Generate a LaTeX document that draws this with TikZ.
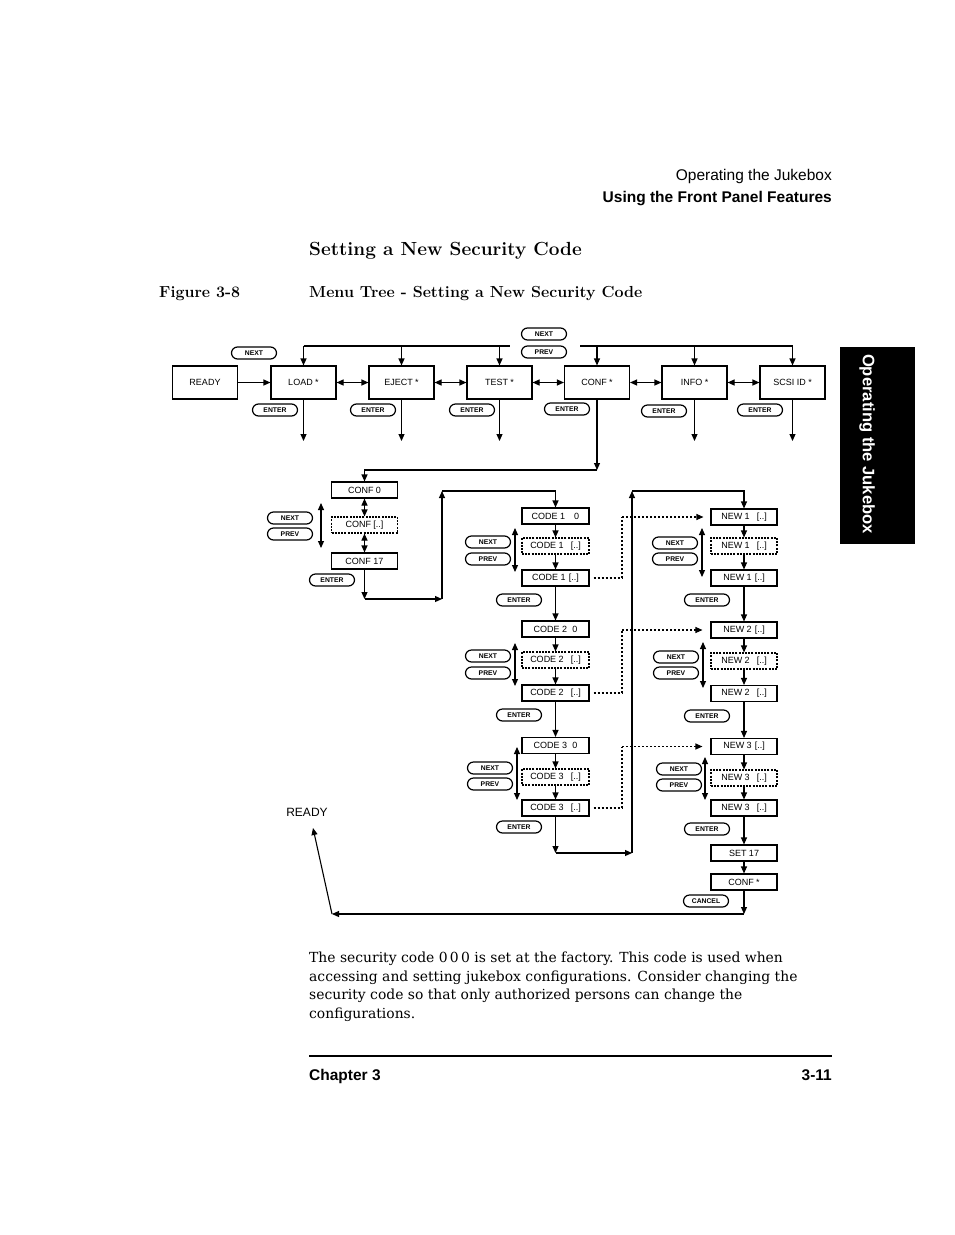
\documentclass[tikz,border=0pt]{standalone}
\usepackage{fontspec}
\setsansfont{Liberation Sans}
\newfontfamily\bodyserif{DejaVu Serif}
\usetikzlibrary{arrows.meta}
\begin{document}
\begin{tikzpicture}[x=1pt,y=-1pt,
  lw/.style={line width=1.1pt},
  mbox/.style={draw,lw,minimum width=65pt,minimum height=33pt,inner sep=0pt,font=\sffamily\fontsize{9}{10}\selectfont},
  sbox/.style={draw,lw,minimum width=66pt,minimum height=16pt,inner sep=0pt,font=\sffamily\fontsize{9}{10}\selectfont},
  dbox/.style={sbox,dash pattern=on 2pt off 1.2pt},
  pill/.style={draw,line width=1.2pt,rounded corners=6pt,minimum width=45pt,minimum height=12pt,inner sep=0pt,font=\sffamily\bfseries\fontsize{6.8}{7}\selectfont},
  arr/.style={lw,-{Triangle[length=7pt,width=6pt]}},
  darr/.style={lw,{Triangle[length=7pt,width=6pt]}-{Triangle[length=7pt,width=6pt]}},
  dotarr/.style={lw,dash pattern=on 2pt off 2pt,-{Triangle[length=7pt,width=6pt]}},
  dotln/.style={lw,dash pattern=on 2pt off 2pt},
  hdr/.style={font=\sffamily\fontsize{15.5}{18}\selectfont,inner sep=0pt},
]
\useasboundingbox (0,0) rectangle (954,1235);
\fill[white] (0,0) rectangle (954,1235);

% ---------- page header ----------
\node[hdr,anchor=base east] (h1) at (832,180) {Operating the Jukebox};
\node[hdr,anchor=base east,font=\sffamily\bfseries\fontsize{15.5}{18}\selectfont] (h2) at (832,202) {Using the Front Panel Features};
\node[anchor=base west,inner sep=0pt,font=\bfseries\fontsize{19}{22}\selectfont] (title) at (309,255) {Setting a New Security Code};
\node[anchor=base west,inner sep=0pt,font=\bfseries\fontsize{16}{18}\selectfont] (fig) at (159,297) {Figure 3-8};
\node[anchor=base west,inner sep=0pt,font=\bfseries\fontsize{16}{18}\selectfont] (cap) at (309,297) {Menu Tree - Setting a New Security Code};

% ---------- side tab ----------
\fill[black] (840,347) rectangle (915,544);
\node[rotate=-90,text=white,inner sep=0pt,font=\sffamily\bfseries\fontsize{16.6}{18}\selectfont] (tab) at (867,444) {Operating the Jukebox};

% ---------- top menu row ----------
\node[mbox] (ready) at (205,382.5) {READY};
\node[mbox] (load)  at (303.5,382.5) {LOAD *};
\node[mbox] (eject) at (401.5,382.5) {EJECT *};
\node[mbox] (test)  at (499.5,382.5) {TEST *};
\node[mbox] (conf)  at (597,382.5) {CONF *};
\node[mbox] (info)  at (694.5,382.5) {INFO *};
\node[mbox] (scsi)  at (792.5,382.5) {SCSI ID *};

\node[pill] (next0) at (254,353) {NEXT};
\node[pill] (next1) at (544,334) {NEXT};
\node[pill] (prev1) at (544,352) {PREV};
\node[pill] (e1) at (275,410) {ENTER};
\node[pill] (e2) at (373,410) {ENTER};
\node[pill] (e3) at (472,410) {ENTER};
\node[pill] (e4) at (567,409) {ENTER};
\node[pill] (e5) at (664,411) {ENTER};
\node[pill] (e6) at (760,410) {ENTER};

\draw[arr] (ready) -- (load);
\draw[darr] (load) -- (eject);
\draw[darr] (eject) -- (test);
\draw[darr] (test) -- (conf);
\draw[darr] (conf) -- (info);
\draw[darr] (info) -- (scsi);

\coordinate (tl) at (510,346);
\coordinate (tr) at (580,346);
\draw[lw] (load.north |- tl) -- (tl);
\draw[lw] (tr) -- (scsi.north |- tr);
\foreach \b in {load,eject,test} \draw[arr] (\b.north |- tl) -- (\b.north);
\foreach \b in {conf,info,scsi} \draw[arr] (\b.north |- tr) -- (\b.north);

\coordinate (load-d) at (303.5,441);
\coordinate (eject-d) at (401.5,441);
\coordinate (test-d) at (499.5,441);
\coordinate (info-d) at (694.5,441);
\coordinate (scsi-d) at (792.5,441);
\foreach \b in {load,eject,test,info,scsi} \draw[arr] (\b.south) -- (\b-d);

% ---------- CONF column ----------
\node[sbox] (c0)  at (364.5,490) {CONF 0};
\node[dbox] (cd)  at (364.5,525) {CONF [..]};
\node[sbox] (c17) at (364.5,561) {CONF 17};
\node[pill] (cn) at (290,518) {NEXT};
\node[pill] (cp) at (290,534) {PREV};
\node[pill] (ce) at (332,580) {ENTER};
\coordinate (ca1) at (321,503);
\coordinate (ca2) at (321,548);
\draw[darr] (ca1) -- (ca2);

\coordinate (k1) at (597,470);
\coordinate (k2) at (364.5,470);
\draw[arr] (conf.south) -- (k1);
\draw[arr] (k1) -- (k2) -- (c0.north);
\draw[darr] (c0) -- (cd);
\draw[darr] (cd) -- (c17);

\coordinate (m1) at (364.5,599);
\coordinate (m2) at (442,599);
\coordinate (m3) at (442,491);
\coordinate (m4) at (555.5,491);
\draw[arr] (c17.south) -- (m1);
\draw[arr] (m1) -- (m2);
\draw[arr] (m2) -- (m3);

% ---------- CODE column ----------
\node[sbox,minimum width=67pt] (a10) at (555.5,516) {CODE 1\hspace{9pt}0};
\node[dbox,minimum width=67pt] (a1d) at (555.5,546) {CODE 1\hspace{7pt}[..]};
\node[sbox,minimum width=67pt] (a1)  at (555.5,578) {CODE 1\hspace{3pt}[..]};
\node[sbox,minimum width=67pt] (a20) at (555.5,629) {CODE 2\hspace{5pt}0};
\node[dbox,minimum width=67pt] (a2d) at (555.5,660) {CODE 2\hspace{7pt}[..]};
\node[sbox,minimum width=67pt] (a2)  at (555.5,693) {CODE 2\hspace{7pt}[..]};
\node[sbox,minimum width=67pt] (a30) at (555.5,745.5) {CODE 3\hspace{5pt}0};
\node[dbox,minimum width=67pt] (a3d) at (555.5,777) {CODE 3\hspace{7pt}[..]};
\node[sbox,minimum width=67pt] (a3)  at (555.5,808) {CODE 3\hspace{7pt}[..]};

\node[pill] (an1) at (488,542) {NEXT};
\node[pill] (ap1) at (488,559) {PREV};
\node[pill] (ae1) at (519,600) {ENTER};
\node[pill] (an2) at (488,656) {NEXT};
\node[pill] (ap2) at (488,673) {PREV};
\node[pill] (ae2) at (519,715) {ENTER};
\node[pill] (an3) at (490,768) {NEXT};
\node[pill] (ap3) at (490,784) {PREV};
\node[pill] (ae3) at (519,827) {ENTER};

\coordinate (ad1a) at (515,528); \coordinate (ad1b) at (515,572);
\coordinate (ad2a) at (515,643); \coordinate (ad2b) at (515,686);
\coordinate (ad3a) at (517,747); \coordinate (ad3b) at (517,800);
\draw[darr] (ad1a) -- (ad1b);
\draw[darr] (ad2a) -- (ad2b);
\draw[darr] (ad3a) -- (ad3b);

\draw[arr] (m3) -- (m4) -- (a10.north);
\draw[arr] (a10) -- (a1d);
\draw[arr] (a1d) -- (a1);
\draw[arr] (a1) -- (a20);
\draw[arr] (a20) -- (a2d);
\draw[arr] (a2d) -- (a2);
\draw[arr] (a2) -- (a30);
\draw[arr] (a30) -- (a3d);
\draw[arr] (a3d) -- (a3);

% ---------- NEW column ----------
\node[sbox] (n1a) at (744,517) {NEW 1\hspace{7pt}[..]};
\node[dbox] (n1d) at (744,546) {NEW 1\hspace{7pt}[..]};
\node[sbox] (n1b) at (744,578) {NEW 1\hspace{3pt}[..]};
\node[sbox] (n2a) at (744,630) {NEW 2\hspace{3pt}[..]};
\node[dbox] (n2d) at (744,661) {NEW 2\hspace{7pt}[..]};
\node[sbox] (n2b) at (744,693.5) {NEW 2\hspace{7pt}[..]};
\node[sbox] (n3a) at (744,746.5) {NEW 3\hspace{3pt}[..]};
\node[dbox] (n3d) at (744,778) {NEW 3\hspace{7pt}[..]};
\node[sbox] (n3b) at (744,808) {NEW 3\hspace{7pt}[..]};
\node[sbox] (set) at (744,853) {SET 17};
\node[sbox] (cfs) at (744,882) {CONF *};

\node[pill] (nn1) at (675,543) {NEXT};
\node[pill] (np1) at (675,559) {PREV};
\node[pill] (ne1) at (707,600) {ENTER};
\node[pill] (nn2) at (676,657) {NEXT};
\node[pill] (np2) at (676,673) {PREV};
\node[pill] (ne2) at (707,716) {ENTER};
\node[pill] (nn3) at (679,769) {NEXT};
\node[pill] (np3) at (679,785) {PREV};
\node[pill] (ne3) at (707,829) {ENTER};
\node[pill] (cancel) at (706,901) {CANCEL};

\coordinate (nd1a) at (702,528); \coordinate (nd1b) at (702,577);
\coordinate (nd2a) at (703,642); \coordinate (nd2b) at (703,688);
\coordinate (nd3a) at (705,757); \coordinate (nd3b) at (705,800);
\draw[darr] (nd1a) -- (nd1b);
\draw[darr] (nd2a) -- (nd2b);
\draw[darr] (nd3a) -- (nd3b);

\draw[arr] (n1a) -- (n1d);
\draw[arr] (n1d) -- (n1b);
\draw[arr] (n1b) -- (n2a);
\draw[arr] (n2a) -- (n2d);
\draw[arr] (n2d) -- (n2b);
\draw[arr] (n2b) -- (n3a);
\draw[arr] (n3a) -- (n3d);
\draw[arr] (n3d) -- (n3b);
\draw[arr] (n3b) -- (set);
\draw[arr] (set) -- (cfs);

% ---------- dotted links CODE -> NEW ----------
\coordinate (q1a) at (622,578); \coordinate (q1b) at (622,517);
\coordinate (q2a) at (622,693); \coordinate (q2b) at (622,630);
\coordinate (q3a) at (622,808); \coordinate (q3b) at (622,746.5);
\draw[dotln,shorten <=4pt] (a1.east) -- (q1a);
\draw[dotln] (q1a) -- (q1b);
\draw[dotarr,shorten >=7pt] (q1b) -- (n1a.west);
\draw[dotln,shorten <=4pt] (a2.east) -- (q2a);
\draw[dotln] (q2a) -- (q2b);
\draw[dotarr,shorten >=8pt] (q2b) -- (n2a.west);
\draw[dotln,shorten <=4pt] (a3.east) -- (q3a);
\draw[dotln] (q3a) -- (q3b);
\draw[dotarr,shorten >=8pt] (q3b) -- (n3a.west);

% ---------- return path to NEW 1 ----------
\coordinate (r1) at (555.5,853);
\coordinate (r2) at (632,853);
\coordinate (r3) at (632,491);
\coordinate (r4) at (744,491);
\draw[arr] (a3.south) -- (r1);
\draw[arr] (r1) -- (r2);
\draw[arr] (r2) -- (r3);
\draw[arr] (r3) -- (r4) -- (n1a.north);

% ---------- cancel back to READY ----------
\node[inner sep=0pt,font=\sffamily\fontsize{12}{14}\selectfont] (rdy) at (307,812) {READY};
\coordinate (z1) at (744,914);
\coordinate (z2) at (332,914);
\coordinate (z3) at (313,828);
\draw[arr] (cfs.south) -- (z1);
\draw[arr] (z1) -- (z2);
\draw[arr] (z2) -- (z3);

% ---------- body text ----------
\node[anchor=north west,align=left,inner sep=0pt,font=\bodyserif\fontsize{13.9}{18.6}\selectfont] (body) at (309,952)
{The security code 0\,0\,0 is set at the factory. This code is used when\\
accessing and setting jukebox configurations. Consider changing the\\
security code so that only authorized persons can change the\\
configurations.};

% ---------- footer ----------
\draw[line width=2.2pt] (309,1056) -- (832,1056);
\node[anchor=base west,inner sep=0pt,font=\sffamily\bfseries\fontsize{15.5}{18}\selectfont] (chap) at (309,1080) {Chapter 3};
\node[anchor=base east,inner sep=0pt,font=\sffamily\bfseries\fontsize{15.5}{18}\selectfont] (pg) at (832,1080) {3-11};
\end{tikzpicture}
\end{document}
